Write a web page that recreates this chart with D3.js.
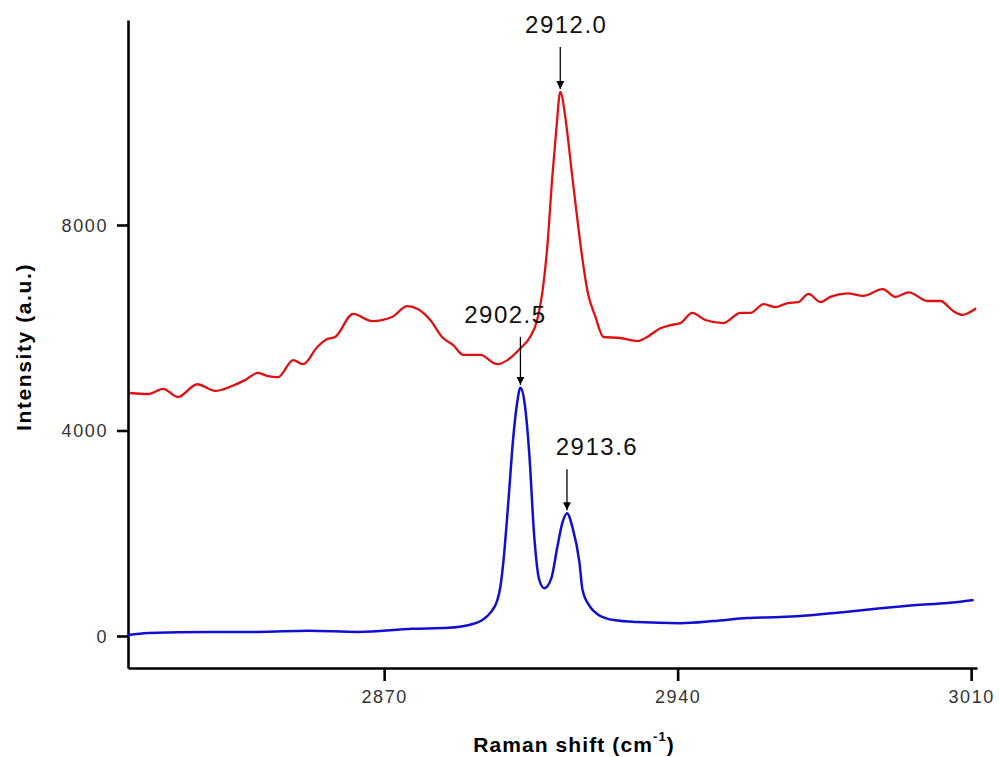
<!DOCTYPE html>
<html>
<head>
<meta charset="utf-8">
<script src="https://cdn.jsdelivr.net/npm/d3@7"></script>
<style>
  body { margin: 0; background: #fff; }
  svg { display: block; font-family: Arial, "Liberation Sans", sans-serif; }
</style>
</head>
<body>
<div id="container"></div>
<script>
// wavenumbers (cm-1) and intensities
const red_shift = [2809.4, 2813.7, 2817.3, 2820.8, 2825.4, 2829.7, 2833.7, 2836.8, 2839.9, 2842.3, 2844.7, 2848.3, 2850.7, 2854.0, 2856.4, 2858.3, 2862.6, 2867.1, 2871.9, 2875.5, 2878.1, 2881.0, 2883.8, 2886.5, 2888.9, 2892.9, 2897.0, 2899.4, 2902.5, 2904.8, 2906.5, 2907.7, 2908.9, 2910.1, 2911.1, 2912.0, 2913.3, 2914.6, 2915.9, 2917.1, 2918.6, 2920.4, 2922.3, 2926.3, 2930.4, 2932.3, 2935.9, 2938.3, 2940.6, 2943.5, 2946.6, 2950.9, 2955.0, 2957.4, 2960.5, 2963.3, 2966.2, 2968.8, 2971.2, 2974.1, 2976.4, 2980.5, 2984.3, 2988.9, 2992.0, 2995.1, 2999.6, 3002.7, 3005.8, 3007.9, 3009.4, 3011.2];
const red_intensity = [4730, 4710, 4810, 4650, 4900, 4770, 4865, 4980, 5120, 5060, 5040, 5370, 5290, 5620, 5780, 5820, 6270, 6130, 6210, 6420, 6360, 6150, 5820, 5660, 5470, 5470, 5290, 5370, 5600, 5820, 6150, 6670, 7570, 8930, 9900, 10590, 10040, 9130, 8230, 7450, 6670, 6210, 5820, 5800, 5740, 5800, 5990, 6050, 6090, 6290, 6150, 6090, 6290, 6290, 6460, 6400, 6480, 6500, 6660, 6500, 6600, 6670, 6620, 6750, 6600, 6690, 6520, 6520, 6320, 6250, 6290, 6380];

const blue_shift = [2808.9, 2813.7, 2828.0, 2839.9, 2851.9, 2863.8, 2876.7, 2885.3, 2890.0, 2893.4, 2895.3, 2897.0, 2897.7, 2898.4, 2899.6, 2900.8, 2901.7, 2902.5, 2903.5, 2904.6, 2905.8, 2907.0, 2908.2, 2909.9, 2911.3, 2912.5, 2913.6, 2914.9, 2916.6, 2917.3, 2919.2, 2920.8, 2924.7, 2930.4, 2940.6, 2948.5, 2956.6, 2964.5, 2972.4, 2980.5, 2988.4, 2996.3, 3004.4, 3010.6];
const blue_intensity = [20, 60, 80, 80, 100, 80, 140, 160, 210, 310, 450, 700, 950, 1420, 2590, 3870, 4530, 4830, 4530, 3560, 1930, 1090, 930, 1130, 1730, 2200, 2390, 2120, 1420, 900, 560, 430, 310, 270, 250, 290, 350, 370, 410, 470, 540, 600, 640, 700];

const peak_labels = ["2912.0", "2902.5", "2913.6"];
const peak_shift = [2912.0, 2902.5, 2913.6];
const peak_intensity = [10590, 4830, 2390];

const x_ticks = [2870, 2940, 3010];
const y_ticks = [0, 4000, 8000];

const width = 999, height = 757;
const margin = {top: 20, right: 22, bottom: 89, left: 128};

const svg = d3.select("#container").append("svg")
    .attr("width", width)
    .attr("height", height);

const x = d3.scaleLinear()
    .domain([2808.9, 3011.4])
    .range([margin.left, width - margin.right]);
const y = d3.scaleLinear()
    .domain([-623, 11990])
    .range([height - margin.bottom, margin.top]);

// axes
const xAxis = svg.append("g")
    .attr("transform", `translate(0,${height - margin.bottom})`)
    .call(d3.axisBottom(x).tickValues(x_ticks).tickFormat(d3.format("d"))
        .tickSizeInner(13).tickSizeOuter(0).tickPadding(9));
const yAxis = svg.append("g")
    .attr("transform", `translate(${margin.left},0)`)
    .call(d3.axisLeft(y).tickValues(y_ticks).tickFormat(d3.format("d"))
        .tickSizeInner(11).tickSizeOuter(0).tickPadding(9));

[xAxis, yAxis].forEach(a => {
    a.select(".domain").attr("stroke", "#000").attr("stroke-width", 2.6);
    a.selectAll(".tick line").attr("stroke", "#000").attr("stroke-width", 2.6);
    a.selectAll(".tick text")
        .attr("fill", "#333")
        .style("font-size", "18px")
        .style("letter-spacing", "1.6px");
});
yAxis.selectAll(".tick text").attr("dy", "0.36em");

// spectra
const line = d3.line()
    .x(d => x(d[0]))
    .y(d => y(d[1]))
    .curve(d3.curveMonotoneX);

const red = red_shift.map((s, i) => [s, red_intensity[i]]);
const blue = blue_shift.map((s, i) => [s, blue_intensity[i]]);

svg.append("path")
    .datum(red)
    .attr("fill", "none")
    .attr("stroke", "#e01010")
    .attr("stroke-width", 2.3)
    .attr("d", line);

svg.append("path")
    .datum(blue)
    .attr("fill", "none")
    .attr("stroke", "#1010d0")
    .attr("stroke-width", 2.5)
    .attr("d", line);

// peak arrows + labels
svg.append("defs").append("marker")
    .attr("id", "arrowhead")
    .attr("viewBox", "0 0 10 10")
    .attr("refX", 10).attr("refY", 5)
    .attr("markerWidth", 8).attr("markerHeight", 8)
    .attr("markerUnits", "userSpaceOnUse")
    .attr("orient", "auto")
    .append("path")
    .attr("d", "M0,0 L10,5 L0,10 z")
    .attr("fill", "#000");

const label_dx = [6, -15, 30];
const arrow_len = [42, 48, 41];

peak_labels.forEach((lab, i) => {
    const px = x(peak_shift[i]);
    const tip = y(peak_intensity[i]) - 3;
    const top = tip - arrow_len[i];
    svg.append("line")
        .attr("x1", px).attr("x2", px)
        .attr("y1", top).attr("y2", tip)
        .attr("stroke", "#000")
        .attr("stroke-width", 1.3)
        .attr("marker-end", "url(#arrowhead)");
    svg.append("text")
        .attr("x", px + label_dx[i])
        .attr("y", top - 14)
        .attr("text-anchor", "middle")
        .attr("fill", "#111")
        .style("font-size", "24px")
        .style("letter-spacing", "1.5px")
        .text(lab);
});

// axis titles
svg.append("text")
    .attr("transform", "translate(31,347) rotate(-90)")
    .attr("text-anchor", "middle")
    .style("font-size", "21px")
    .style("font-weight", "bold")
    .style("letter-spacing", "1.6px")
    .text("Intensity (a.u.)");

const xt = svg.append("text")
    .attr("x", 574)
    .attr("y", 752)
    .attr("text-anchor", "middle")
    .style("font-size", "21px")
    .style("font-weight", "bold")
    .style("letter-spacing", "1.1px");
xt.append("tspan").text("Raman shift (cm");
xt.append("tspan").attr("dy", -11).style("font-size", "13px").text("-1");
xt.append("tspan").attr("dy", 11).text(")");
</script>
</body>
</html>
